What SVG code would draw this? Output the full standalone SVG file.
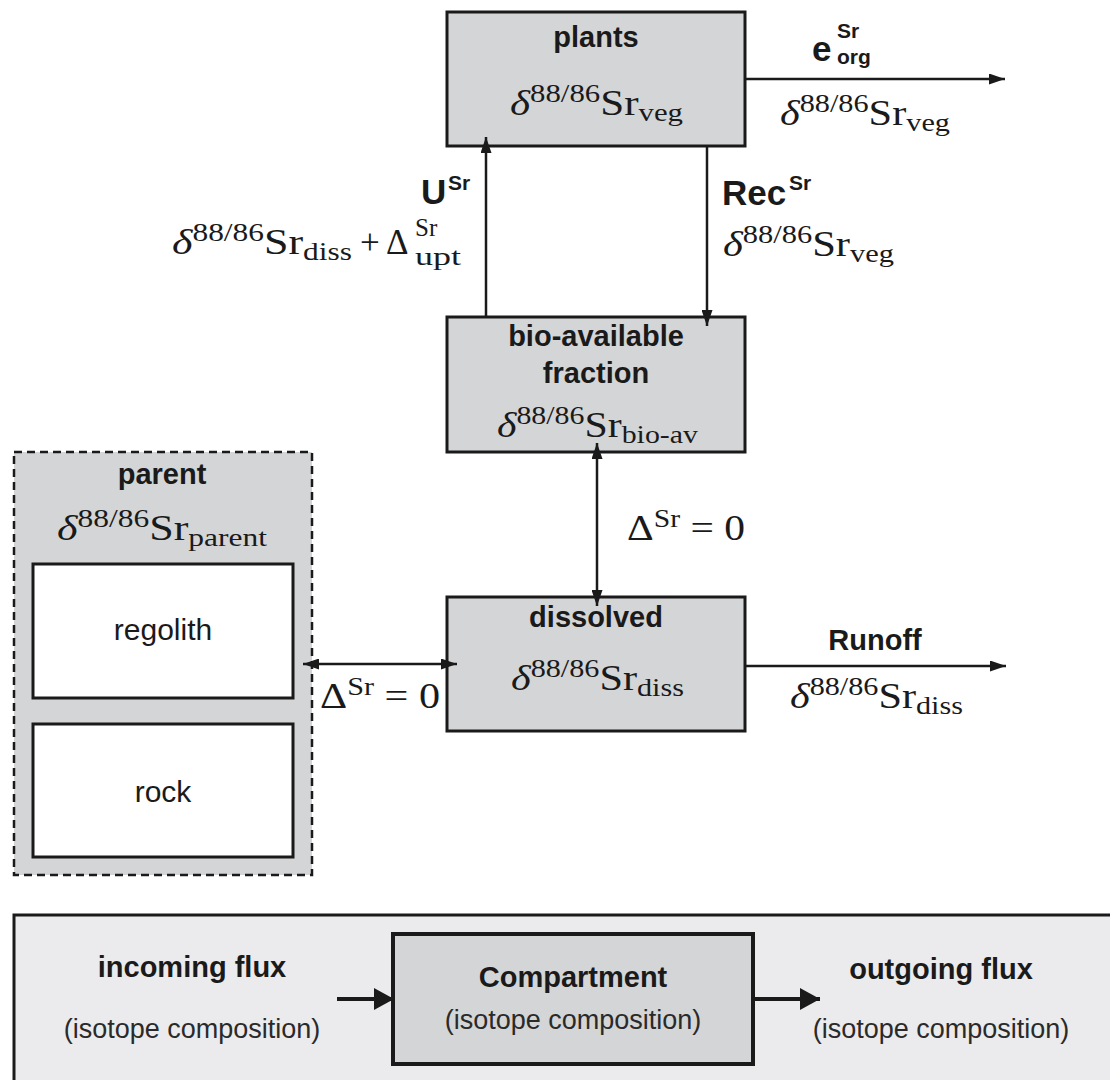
<svg xmlns="http://www.w3.org/2000/svg" width="1110" height="1080" viewBox="0 0 1110 1080">
<defs>
<marker id="ah" viewBox="0 0 16 11" refX="16" refY="5.5" markerWidth="16" markerHeight="11" markerUnits="userSpaceOnUse" orient="auto-start-reverse"><path d="M0,0 L16,5.5 L0,11 z" fill="#1a1a1a"/></marker>
<marker id="ahL" viewBox="0 0 20 22" refX="20" refY="11" markerWidth="20" markerHeight="22" markerUnits="userSpaceOnUse" orient="auto"><path d="M0,0 L20,11 L0,22 z" fill="#1a1a1a"/></marker>
</defs>
<style>
.box{fill:#d4d5d7;stroke:#1a1a1a;stroke-width:3}
.wbox{fill:#ffffff;stroke:#1a1a1a;stroke-width:3}
.dash{fill:#d4d5d7;stroke:#1a1a1a;stroke-width:2.5;stroke-dasharray:8 5}
.lbl{font-family:"Liberation Sans",Arial,sans-serif;font-weight:bold;font-size:29px;fill:#1a1a1a;text-anchor:middle}
.big{font-family:"Liberation Sans",Arial,sans-serif;font-weight:bold;font-size:35px;fill:#1a1a1a}
.sup{font-family:"Liberation Sans",Arial,sans-serif;font-weight:bold;font-size:21px;fill:#1a1a1a}
.reg{font-family:"Liberation Sans",Arial,sans-serif;font-size:30px;fill:#1a1a1a;text-anchor:middle}
.leg{font-family:"Liberation Sans",Arial,sans-serif;font-size:27px;fill:#2a2a2a;text-anchor:middle}
.m{font-family:"Liberation Serif","Times New Roman",serif;font-size:35px;fill:#1a1a1a}
.s{font-size:25px}
.it{font-style:italic}
.ln{stroke:#1a1a1a;stroke-width:2.5;fill:none}
.lnL{stroke:#1a1a1a;stroke-width:4;fill:none}
</style>

<g id="plants">
<rect class="box" x="447" y="12" width="298" height="134"/>
<text class="lbl" x="596" y="47">plants</text>
<text class="m" x="510" y="115" textLength="173" lengthAdjust="spacingAndGlyphs"><tspan class="it">δ</tspan><tspan class="s" dy="-13">88/86</tspan><tspan dy="13">Sr</tspan><tspan class="s" dy="6">veg</tspan></text>
</g>

<g id="bioavailable">
<rect class="box" x="447" y="317" width="298" height="135"/>
<text class="lbl" x="596" y="346">bio-available</text>
<text class="lbl" x="596" y="383">fraction</text>
<text class="m" x="497" y="437" textLength="201" lengthAdjust="spacingAndGlyphs"><tspan class="it">δ</tspan><tspan class="s" dy="-13">88/86</tspan><tspan dy="13">Sr</tspan><tspan class="s" dy="6">bio-av</tspan></text>
</g>

<g id="dissolved">
<rect class="box" x="447" y="597" width="298" height="134"/>
<text class="lbl" x="596" y="627">dissolved</text>
<text class="m" x="511" y="690" textLength="173" lengthAdjust="spacingAndGlyphs"><tspan class="it">δ</tspan><tspan class="s" dy="-13">88/86</tspan><tspan dy="13">Sr</tspan><tspan class="s" dy="6">diss</tspan></text>
</g>

<g id="parent">
<rect class="dash" x="14" y="452" width="298" height="423"/>
<text class="lbl" x="162" y="484">parent</text>
<text class="m" x="57" y="540" textLength="210" lengthAdjust="spacingAndGlyphs"><tspan class="it">δ</tspan><tspan class="s" dy="-13">88/86</tspan><tspan dy="13">Sr</tspan><tspan class="s" dy="6">parent</tspan></text>
<g id="regolith">
<rect class="wbox" x="33" y="564" width="260" height="134"/>
<text class="reg" x="163" y="640">regolith</text>
</g>
<g id="rock">
<rect class="wbox" x="33" y="724" width="260" height="133"/>
<text class="reg" x="163" y="802">rock</text>
</g>
</g>

<g id="connectors">
<line class="ln" x1="745" y1="79" x2="1005" y2="79" marker-end="url(#ah)"/>
<line class="ln" x1="486" y1="317" x2="486" y2="137" marker-end="url(#ah)"/>
<line class="ln" x1="707" y1="146" x2="707" y2="326" marker-end="url(#ah)"/>
<line class="ln" x1="597" y1="443" x2="597" y2="606" marker-start="url(#ah)" marker-end="url(#ah)"/>
<line class="ln" x1="303" y1="664" x2="457" y2="664" marker-start="url(#ah)" marker-end="url(#ah)"/>
<line class="ln" x1="745" y1="666" x2="1006" y2="666" marker-end="url(#ah)"/>
</g>

<g id="connector-labels">
<g id="label-eorg">
<text class="big" x="812" y="61" font-size="39">e</text>
<text class="sup" x="837" y="38" font-size="25">Sr</text>
<text class="sup" x="837" y="64" font-size="25">org</text>
<text class="m" x="780" y="125" textLength="170" lengthAdjust="spacingAndGlyphs"><tspan class="it">δ</tspan><tspan class="s" dy="-13">88/86</tspan><tspan dy="13">Sr</tspan><tspan class="s" dy="6">veg</tspan></text>
</g>
<g id="label-uptake">
<text class="big" x="421" y="204">U</text>
<text class="sup" x="448" y="190">Sr</text>
<text class="m" x="172" y="254" textLength="180" lengthAdjust="spacingAndGlyphs"><tspan class="it">δ</tspan><tspan class="s" dy="-13">88/86</tspan><tspan dy="13">Sr</tspan><tspan class="s" dy="6">diss</tspan></text>
<text class="m" x="360" y="254">+</text>
<text class="m" x="386" y="254">Δ</text>
<text class="m s" x="415" y="236">Sr</text>
<text class="m s" x="415" y="265" textLength="46" lengthAdjust="spacingAndGlyphs">upt</text>
</g>
<g id="label-recycling">
<text class="big" x="722" y="205">Rec</text>
<text class="sup" x="789" y="190">Sr</text>
<text class="m" x="723" y="256" textLength="171" lengthAdjust="spacingAndGlyphs"><tspan class="it">δ</tspan><tspan class="s" dy="-13">88/86</tspan><tspan dy="13">Sr</tspan><tspan class="s" dy="6">veg</tspan></text>
</g>
<g id="label-exchange-v">
<text class="m" x="627" y="540" textLength="118" lengthAdjust="spacingAndGlyphs"><tspan>Δ</tspan><tspan class="s" dy="-13">Sr</tspan><tspan dy="13"> = 0</tspan></text>
</g>
<g id="label-exchange-h">
<text class="m" x="320" y="708" textLength="120" lengthAdjust="spacingAndGlyphs"><tspan>Δ</tspan><tspan class="s" dy="-13">Sr</tspan><tspan dy="13"> = 0</tspan></text>
</g>
<g id="label-runoff">
<text class="lbl" x="875" y="650">Runoff</text>
<text class="m" x="790" y="708" textLength="173" lengthAdjust="spacingAndGlyphs"><tspan class="it">δ</tspan><tspan class="s" dy="-13">88/86</tspan><tspan dy="13">Sr</tspan><tspan class="s" dy="6">diss</tspan></text>
</g>
</g>

<g id="legend">
<rect x="14" y="915" width="1120" height="190" fill="#ebebed" stroke="#1a1a1a" stroke-width="3"/>
<text class="lbl" x="192" y="977">incoming flux</text>
<text class="leg" x="192" y="1038">(isotope composition)</text>
<line class="lnL" x1="337" y1="999" x2="394" y2="999" marker-end="url(#ahL)"/>
<g id="legend-compartment">
<rect x="393" y="934" width="360" height="130" fill="#d4d5d7" stroke="#1a1a1a" stroke-width="4"/>
<text class="lbl" x="573" y="987" font-size="30">Compartment</text>
<text class="leg" x="573" y="1029">(isotope composition)</text>
</g>
<line class="lnL" x1="753" y1="999" x2="820" y2="999" marker-end="url(#ahL)"/>
<text class="lbl" x="941" y="979">outgoing flux</text>
<text class="leg" x="941" y="1038">(isotope composition)</text>
</g>
</svg>
